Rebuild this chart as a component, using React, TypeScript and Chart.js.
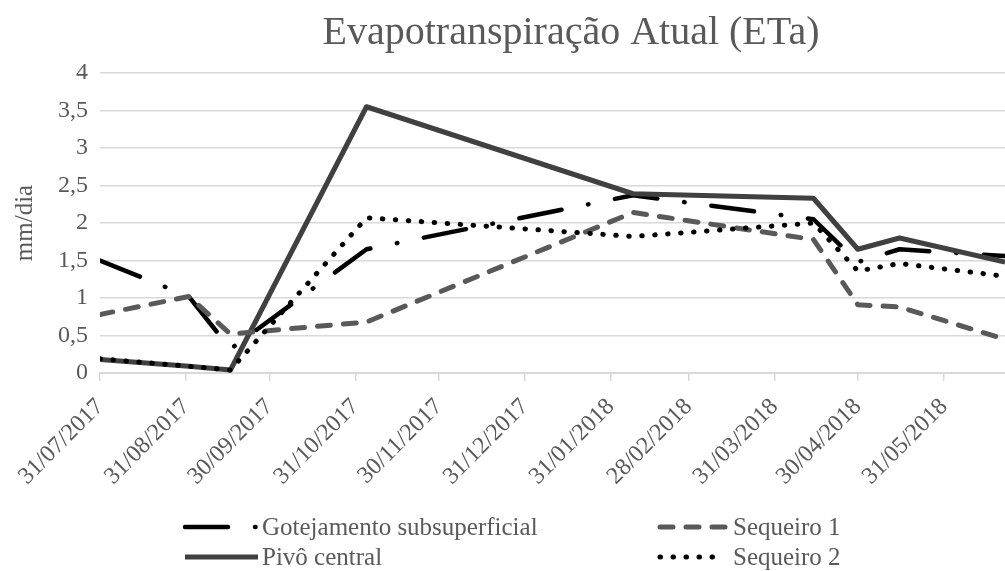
import React, { useEffect, useRef } from "react";
import { Chart, registerables } from "chart.js";

Chart.register(...registerables);

// ---------- data ----------
const chartTitle = "Evapotranspiração Atual (ETa)";
const yAxisTitle = "mm/dia";
const axisStartDate = "31/07/2017";
const axisEndDate = "22/06/2018";
const tickDates = [
  "31/07/2017",
  "31/08/2017",
  "30/09/2017",
  "31/10/2017",
  "30/11/2017",
  "31/12/2017",
  "31/01/2018",
  "28/02/2018",
  "31/03/2018",
  "30/04/2018",
  "31/05/2018",
];
const observationDates = [
  "31/07/2017",
  "01/09/2017",
  "16/09/2017",
  "04/11/2017",
  "08/02/2018",
  "14/04/2018",
  "30/04/2018",
  "15/05/2018",
  "22/06/2018",
];
const seriesNames = ["Gotejamento subsuperficial", "Pivô central", "Sequeiro 1", "Sequeiro 2"];
const gotejamento = [1.5, 1.02, 0.32, 1.65, 2.37, 2.05, 1.48, 1.65, 1.56];
const pivoCentral = [0.18, 0.09, 0.04, 3.55, 2.39, 2.33, 1.65, 1.8, 1.48];
const sequeiro1 = [0.78, 1.02, 0.52, 0.68, 2.14, 1.78, 0.91, 0.88, 0.45];
const sequeiro2 = [0.19, 0.09, 0.04, 2.07, 1.82, 2.0, 1.36, 1.46, 1.29];
const yMin = 0;
const yMax = 4;
const yStep = 0.5;

// ---------- helpers ----------
const FONT = "'Liberation Serif', 'Times New Roman', serif";
const TEXT_COLOR = "#595959";
const GRID_COLOR = "#d9d9d9";

function parseDate(s: string): number {
  const [d, m, y] = s.split("/").map(Number);
  return Date.UTC(y, m - 1, d);
}
const base = parseDate(axisStartDate);
function dayOf(s: string): number {
  return Math.round((parseDate(s) - base) / 86400000);
}
const tickDays = tickDates.map(dayOf);
const obsDays = observationDates.map(dayOf);
function points(values: number[]) {
  return values.map((v, i) => ({ x: obsDays[i], y: v }));
}

const overlayPlugin = {
  id: "overlay",
  afterDraw(chart: any) {
    const ctx = chart.ctx as CanvasRenderingContext2D;
    ctx.save();
    // title
    ctx.fillStyle = TEXT_COLOR;
    ctx.font = `40px ${FONT}`;
    ctx.textAlign = "center";
    ctx.textBaseline = "alphabetic";
    ctx.fillText(chartTitle, 571, 44);

    // legend (2 columns, column-major order)
    const cols = [
      { x0: 185, x1: 258, tx: 262 },
      { x0: 660, x1: 725, tx: 733 },
    ];
    const rowsY = [527, 557];
    chart.data.datasets.forEach((ds: any, i: number) => {
      const col = cols[Math.floor(i / 2)];
      const y = rowsY[i % 2];
      ctx.save();
      ctx.strokeStyle = ds.borderColor;
      ctx.lineWidth = ds.borderWidth;
      ctx.lineCap = ds.borderCapStyle || "butt";
      ctx.setLineDash(ds.borderDash || []);
      ctx.beginPath();
      ctx.moveTo(col.x0, y);
      ctx.lineTo(col.x1, y);
      ctx.stroke();
      ctx.restore();
      ctx.fillStyle = TEXT_COLOR;
      ctx.font = `25px ${FONT}`;
      ctx.textAlign = "left";
      ctx.textBaseline = "middle";
      ctx.fillText(ds.label, col.tx, y + 1);
    });
    ctx.restore();
  },
};

export default function App() {
  const canvasRef = useRef<HTMLCanvasElement | null>(null);

  useEffect(() => {
    const canvas = canvasRef.current;
    if (!canvas) return;
    const chart = new Chart(canvas, {
      type: "line",
      data: {
        datasets: [
          {
            label: seriesNames[0],
            data: points(gotejamento),
            borderColor: "#000000",
            borderWidth: 4.5,
            borderDash: [43, 27, 0.5, 27],
            borderCapStyle: "round",
            borderJoinStyle: "round",
            pointRadius: 0,
            tension: 0,
            fill: false,
            order: 4,
          },
          {
            label: seriesNames[1],
            data: points(pivoCentral),
            borderColor: "#404040",
            borderWidth: 5,
            borderCapStyle: "butt",
            borderJoinStyle: "round",
            pointRadius: 0,
            tension: 0,
            fill: false,
            order: 3,
          },
          {
            label: seriesNames[2],
            data: points(sequeiro1),
            borderColor: "#595959",
            borderWidth: 5,
            borderDash: [13, 13],
            borderCapStyle: "round",
            borderJoinStyle: "round",
            pointRadius: 0,
            tension: 0,
            fill: false,
            order: 2,
          },
          {
            label: seriesNames[3],
            data: points(sequeiro2),
            borderColor: "#000000",
            borderWidth: 5,
            borderDash: [0.5, 12.5],
            borderCapStyle: "round",
            borderJoinStyle: "round",
            pointRadius: 0,
            tension: 0,
            fill: false,
            order: 1,
          },
        ],
      },
      options: {
        responsive: false,
        animation: false,
        devicePixelRatio: 1,
        layout: { padding: { top: 73, bottom: 70, left: 0, right: 0 } },
        plugins: {
          legend: { display: false },
          title: { display: false },
          tooltip: { enabled: false },
        },
        scales: {
          x: {
            type: "linear",
            min: 0,
            max: dayOf(axisEndDate),
            afterBuildTicks: (scale: any) => {
              scale.ticks = tickDays.map((v) => ({ value: v }));
            },
            afterFit: (scale: any) => {
              scale.height = 128;
            },
            ticks: {
              autoSkip: false,
              minRotation: 45,
              maxRotation: 45,
              padding: 12,
              color: TEXT_COLOR,
              font: { family: FONT, size: 24 },
              callback: (value: any) => {
                const idx = tickDays.indexOf(Number(value));
                return idx >= 0 ? tickDates[idx] : "";
              },
            },
            grid: {
              display: true,
              drawOnChartArea: false,
              drawTicks: true,
              tickLength: 8,
              color: GRID_COLOR,
              lineWidth: 1.5,
            },
            border: { display: true, color: GRID_COLOR, width: 2 },
          },
          y: {
            type: "linear",
            min: yMin,
            max: yMax,
            afterFit: (scale: any) => {
              scale.width = 100;
            },
            ticks: {
              stepSize: yStep,
              padding: 12,
              color: TEXT_COLOR,
              font: { family: FONT, size: 24 },
              callback: (value: any) => String(value).replace(".", ","),
            },
            grid: { color: GRID_COLOR, lineWidth: 1.5, drawTicks: false },
            border: { display: false },
            title: {
              display: true,
              text: yAxisTitle,
              color: TEXT_COLOR,
              font: { family: FONT, size: 25 },
              padding: { top: 10, bottom: 0 },
            },
          },
        },
      },
      plugins: [overlayPlugin],
    });
    return () => chart.destroy();
  }, []);

  return (
    <div style={{ position: "fixed", left: 0, top: 0, width: 1005, height: 571, background: "#ffffff" }}>
      <canvas ref={canvasRef} width={1005} height={571} style={{ display: "block" }} />
    </div>
  );
}
